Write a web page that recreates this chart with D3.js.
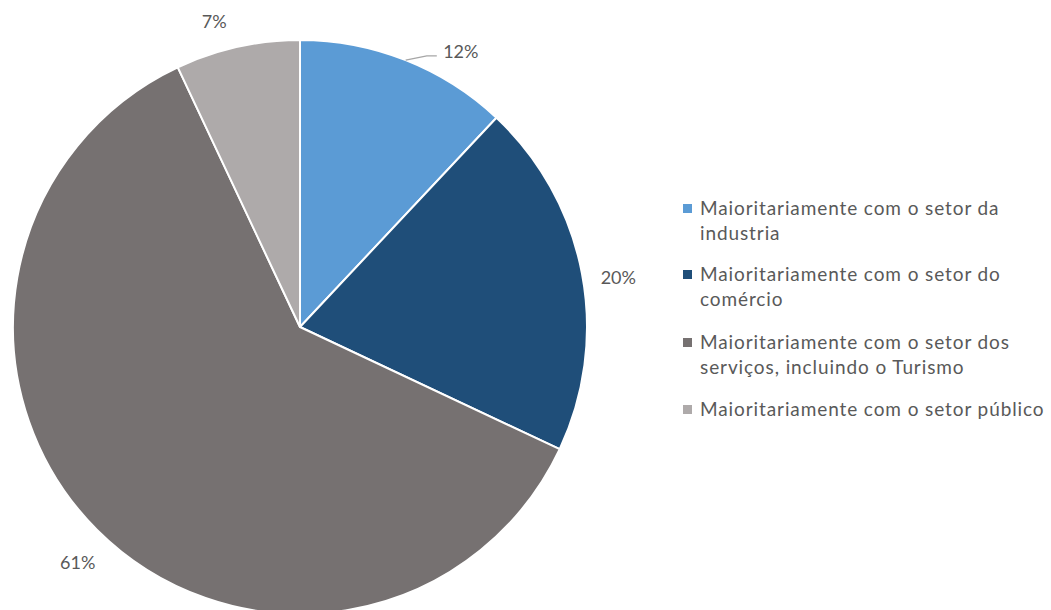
<!DOCTYPE html>
<html>
<head>
<meta charset="utf-8">
<script src="https://cdn.jsdelivr.net/npm/d3@7"></script>
<style>
  html, body { margin: 0; padding: 0; background: #ffffff; }
  svg { display: block; }
</style>
</head>
<body>
<svg id="chart" width="1051" height="610"></svg>
<script>
// Sector shares (percent), drawn clockwise from 12 o'clock
const categories = [
  ["Maioritariamente com o setor da", "industria"],
  ["Maioritariamente com o setor do", "comércio"],
  ["Maioritariamente com o setor dos", "serviços, incluindo o Turismo"],
  ["Maioritariamente com o setor público"]
];
const values = [12, 20, 61, 7];
const colors = ["#5B9BD5", "#1F4E79", "#767171", "#AEAAAA"];

const svg = d3.select("#chart");
const font = "Lato, 'Open Sans', sans-serif";
const textColor = "#595959";

const cx = 300, cy = 327, r = 287;

const pie = d3.pie().sort(null).value(d => d);
const arcs = pie(values);
const arc = d3.arc().innerRadius(0).outerRadius(r);

const g = svg.append("g").attr("transform", `translate(${cx},${cy})`);

g.selectAll("path.slice")
  .data(arcs)
  .join("path")
  .attr("class", "slice")
  .attr("d", arc)
  .attr("fill", (d, i) => colors[i])
  .attr("stroke", "#ffffff")
  .attr("stroke-width", 2)
  .attr("stroke-linejoin", "round");

// Percentage labels placed just outside the rim, nudged per slice
const labelArc = d3.arc().innerRadius(r + 33).outerRadius(r + 33);
const labelOffsets = [
  { dx: 43, dy: 22 },   // 12%
  { dx: 4, dy: 10 },    // 20%
  { dx: 4, dy: 9 },     // 61%
  { dx: -16, dy: 7 }    // 7%
];

arcs.forEach((d, i) => {
  let [x, y] = labelArc.centroid(d);
  x += labelOffsets[i].dx;
  y += labelOffsets[i].dy;
  if (i === 0) {
    // leader line from the rim to the label
    const a = (d.startAngle + d.endAngle) / 2;
    const rimX = Math.sin(a) * r, rimY = -Math.cos(a) * r;
    const endX = x - 24, endY = y + 4.5;
    g.append("path")
      .attr("d", `M${rimX},${rimY} L${endX - 10},${endY} L${endX},${endY}`)
      .attr("fill", "none")
      .attr("stroke", "#A6A6A6")
      .attr("stroke-width", 1.3);
  }
  g.append("text")
    .attr("x", x)
    .attr("y", y)
    .attr("dy", 6.5)
    .attr("text-anchor", "middle")
    .attr("font-family", font)
    .attr("font-size", 18)
    .attr("fill", textColor)
    .text(values[i] + "%");
});

// Legend
const legend = svg.append("g").attr("transform", "translate(683,0)");
const rowTops = [215, 281, 349, 416];
const lineGap = 25;

categories.forEach((lines, i) => {
  const row = legend.append("g");
  row.append("rect")
    .attr("x", 0)
    .attr("y", rowTops[i] - 11)
    .attr("width", 9)
    .attr("height", 9)
    .attr("fill", colors[i]);
  const t = row.append("text")
    .attr("font-family", font)
    .attr("font-size", 19)
    .attr("letter-spacing", 0.9)
    .attr("fill", textColor);
  lines.forEach((line, j) => {
    t.append("tspan")
      .attr("x", 17)
      .attr("y", rowTops[i] + j * lineGap)
      .text(line);
  });
});
</script>
</body>
</html>
